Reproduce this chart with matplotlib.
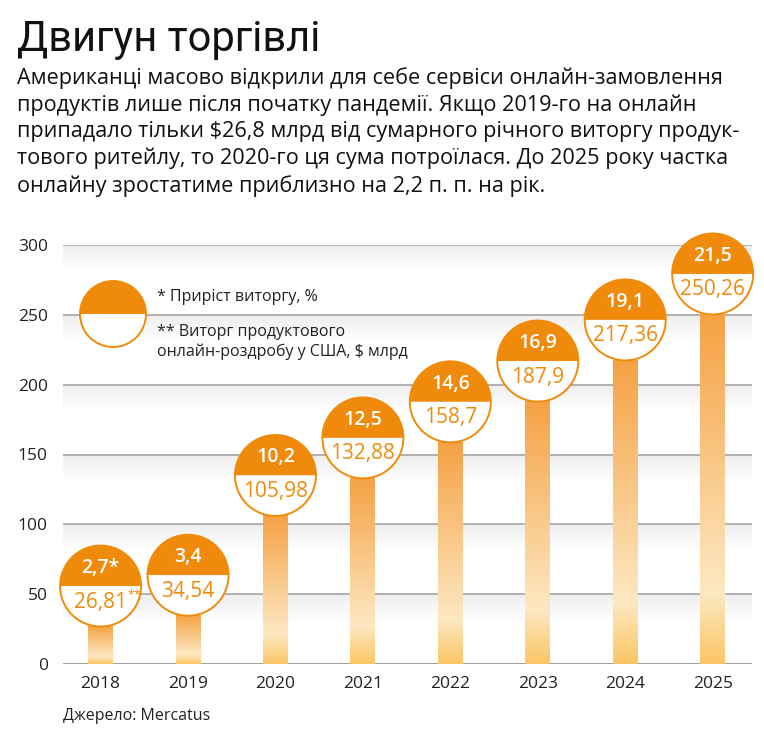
import numpy as np
import matplotlib
matplotlib.use("Agg")
import matplotlib.pyplot as plt
from matplotlib.patches import Wedge, Circle
from matplotlib.transforms import ScaledTranslation
from matplotlib.colors import LinearSegmentedColormap

YEARS = ["2018", "2019", "2020", "2021", "2022", "2023", "2024", "2025"]
REVENUE = [26.81, 34.54, 105.98, 132.88, 158.7, 187.9, 217.36, 250.26]
GROWTH = [2.7, 3.4, 10.2, 12.5, 14.6, 16.9, 19.1, 21.5]
Y_TICKS = [0, 50, 100, 150, 200, 250, 300]

ORANGE = "#EF8A0A"
INK = "#222222"
GRID = "#ABABAB"
FONT = ["Open Sans", "DejaVu Sans"]

def ua(v, nd):
    return f"{v:.{nd}f}".replace(".", ",")

plt.rcParams["font.family"] = FONT
fig = plt.figure(figsize=(7.64, 7.36), dpi=100)
ax = fig.add_axes([63 / 764, 72 / 736, 689 / 764, 419 / 736])

x = np.arange(len(YEARS))

# grid lines with soft shadow underneath
shade = np.linspace(1, 0, 64).reshape(-1, 1)
shade_rgba = np.zeros((64, 1, 4))
shade_rgba[..., 3] = 0.07 * shade
for t in Y_TICKS:
    ax.axhline(t, color=GRID if t else "#999999", lw=1.3, zorder=1)
    if t:
        ax.imshow(shade_rgba, extent=(-0.43, 7.45, t - 20, t), aspect="auto",
                  zorder=0, interpolation="bilinear")

# gradient bars
bar_cmap = LinearSegmentedColormap.from_list(
    "bar", [(0, "#F5A244"), (0.8, "#FDE8C2"), (1, "#FBC665")])
grad = np.linspace(0, 1, 128).reshape(-1, 1)
BW = 0.285
for xi, v in zip(x, REVENUE):
    ax.imshow(grad, cmap=bar_cmap, extent=(xi - BW / 2, xi + BW / 2, 0, v),
              aspect="auto", zorder=2, interpolation="bilinear")
ax.set_xlim(-0.43, 7.45)
ax.set_ylim(0, 300)

# bubbles sitting on top of each bar
R = 0.405
for i, (xi, v) in enumerate(zip(x, REVENUE)):
    tr = fig.dpi_scale_trans + ScaledTranslation(xi, v, ax.transData)
    ax.add_patch(Wedge((0, R), R, 0, 180, transform=tr, facecolor=ORANGE,
                       edgecolor="none", zorder=4, clip_on=False))
    ax.add_patch(Wedge((0, R), R, 180, 360, transform=tr, facecolor="white",
                       edgecolor="none", zorder=4, clip_on=False))
    ax.add_patch(Circle((0, R), R, transform=tr, facecolor="none",
                        edgecolor=ORANGE, lw=1.4, zorder=5, clip_on=False))
    top = ua(GROWTH[i], 1) + ("*" if i == 0 else "")
    ax.text(0, R + 0.18, top, transform=tr, ha="center", va="center",
            color="white", fontsize=14, fontweight="semibold", zorder=6)
    t = ax.text(0, R - 0.16, ua(v, 2 if v != round(v, 1) else 1), transform=tr,
                ha="center", va="center", color=ORANGE, fontsize=15, zorder=6)
    if i == 0:
        ax.annotate("**", xy=(1, 1), xycoords=t, xytext=(0, 2),
                    textcoords="offset points", ha="left", va="top",
                    color=ORANGE, fontsize=9, zorder=6)

# legend bubble
RL = 0.33
trl = fig.dpi_scale_trans + ScaledTranslation(50 / 689, 350 / 419, ax.transAxes)
ax.add_patch(Wedge((0, 0), RL, 0, 180, transform=trl, facecolor=ORANGE,
                   edgecolor="none", zorder=4, clip_on=False))
ax.add_patch(Wedge((0, 0), RL, 180, 360, transform=trl, facecolor="white",
                   edgecolor="none", zorder=4, clip_on=False))
ax.add_patch(Circle((0, 0), RL, transform=trl, facecolor="none",
                    edgecolor=ORANGE, lw=1.4, zorder=5, clip_on=False))
fig.text(157 / 764, 1 - 297 / 736, "* Приріст виторгу, %", fontsize=11.5,
         color=INK, va="center")
fig.text(157 / 764, 1 - 342 / 736,
         "** Виторг продуктового\nонлайн-роздробу у США, $ млрд",
         fontsize=11.5, color=INK, va="center", linespacing=1.25)

ax.set_xticks(x)
ax.set_xticklabels(YEARS)
ax.set_yticks(Y_TICKS)
ax.tick_params(length=0, labelsize=12.5, colors=INK, pad=9)
ax.tick_params(axis="y", pad=11)
for s in ax.spines.values():
    s.set_visible(False)

fig.text(17 / 764, 1 - 40 / 736, "Двигун торгівлі", fontsize=30,
         family=["Roboto", "DejaVu Sans"], color="#111111", va="center")
fig.text(17 / 764, 1 - 132 / 736,
         "Американці масово відкрили для себе сервіси онлайн-замовлення\n"
         "продуктів лише після початку пандемії. Якщо 2019-го на онлайн\n"
         "припадало тільки $26,8 млрд від сумарного річного виторгу продук-\n"
         "тового ритейлу, то 2020-го ця сума потроїлася. До 2025 року частка\n"
         "онлайну зростатиме приблизно на 2,2 п. п. на рік.",
         fontsize=15.6, color="#111111", va="center", linespacing=1.34)
fig.text(63 / 764, 1 - 716 / 736, "Джерело: Mercatus", fontsize=11.5,
         color=INK, va="center")

fig.savefig("out.png", dpi=100)
